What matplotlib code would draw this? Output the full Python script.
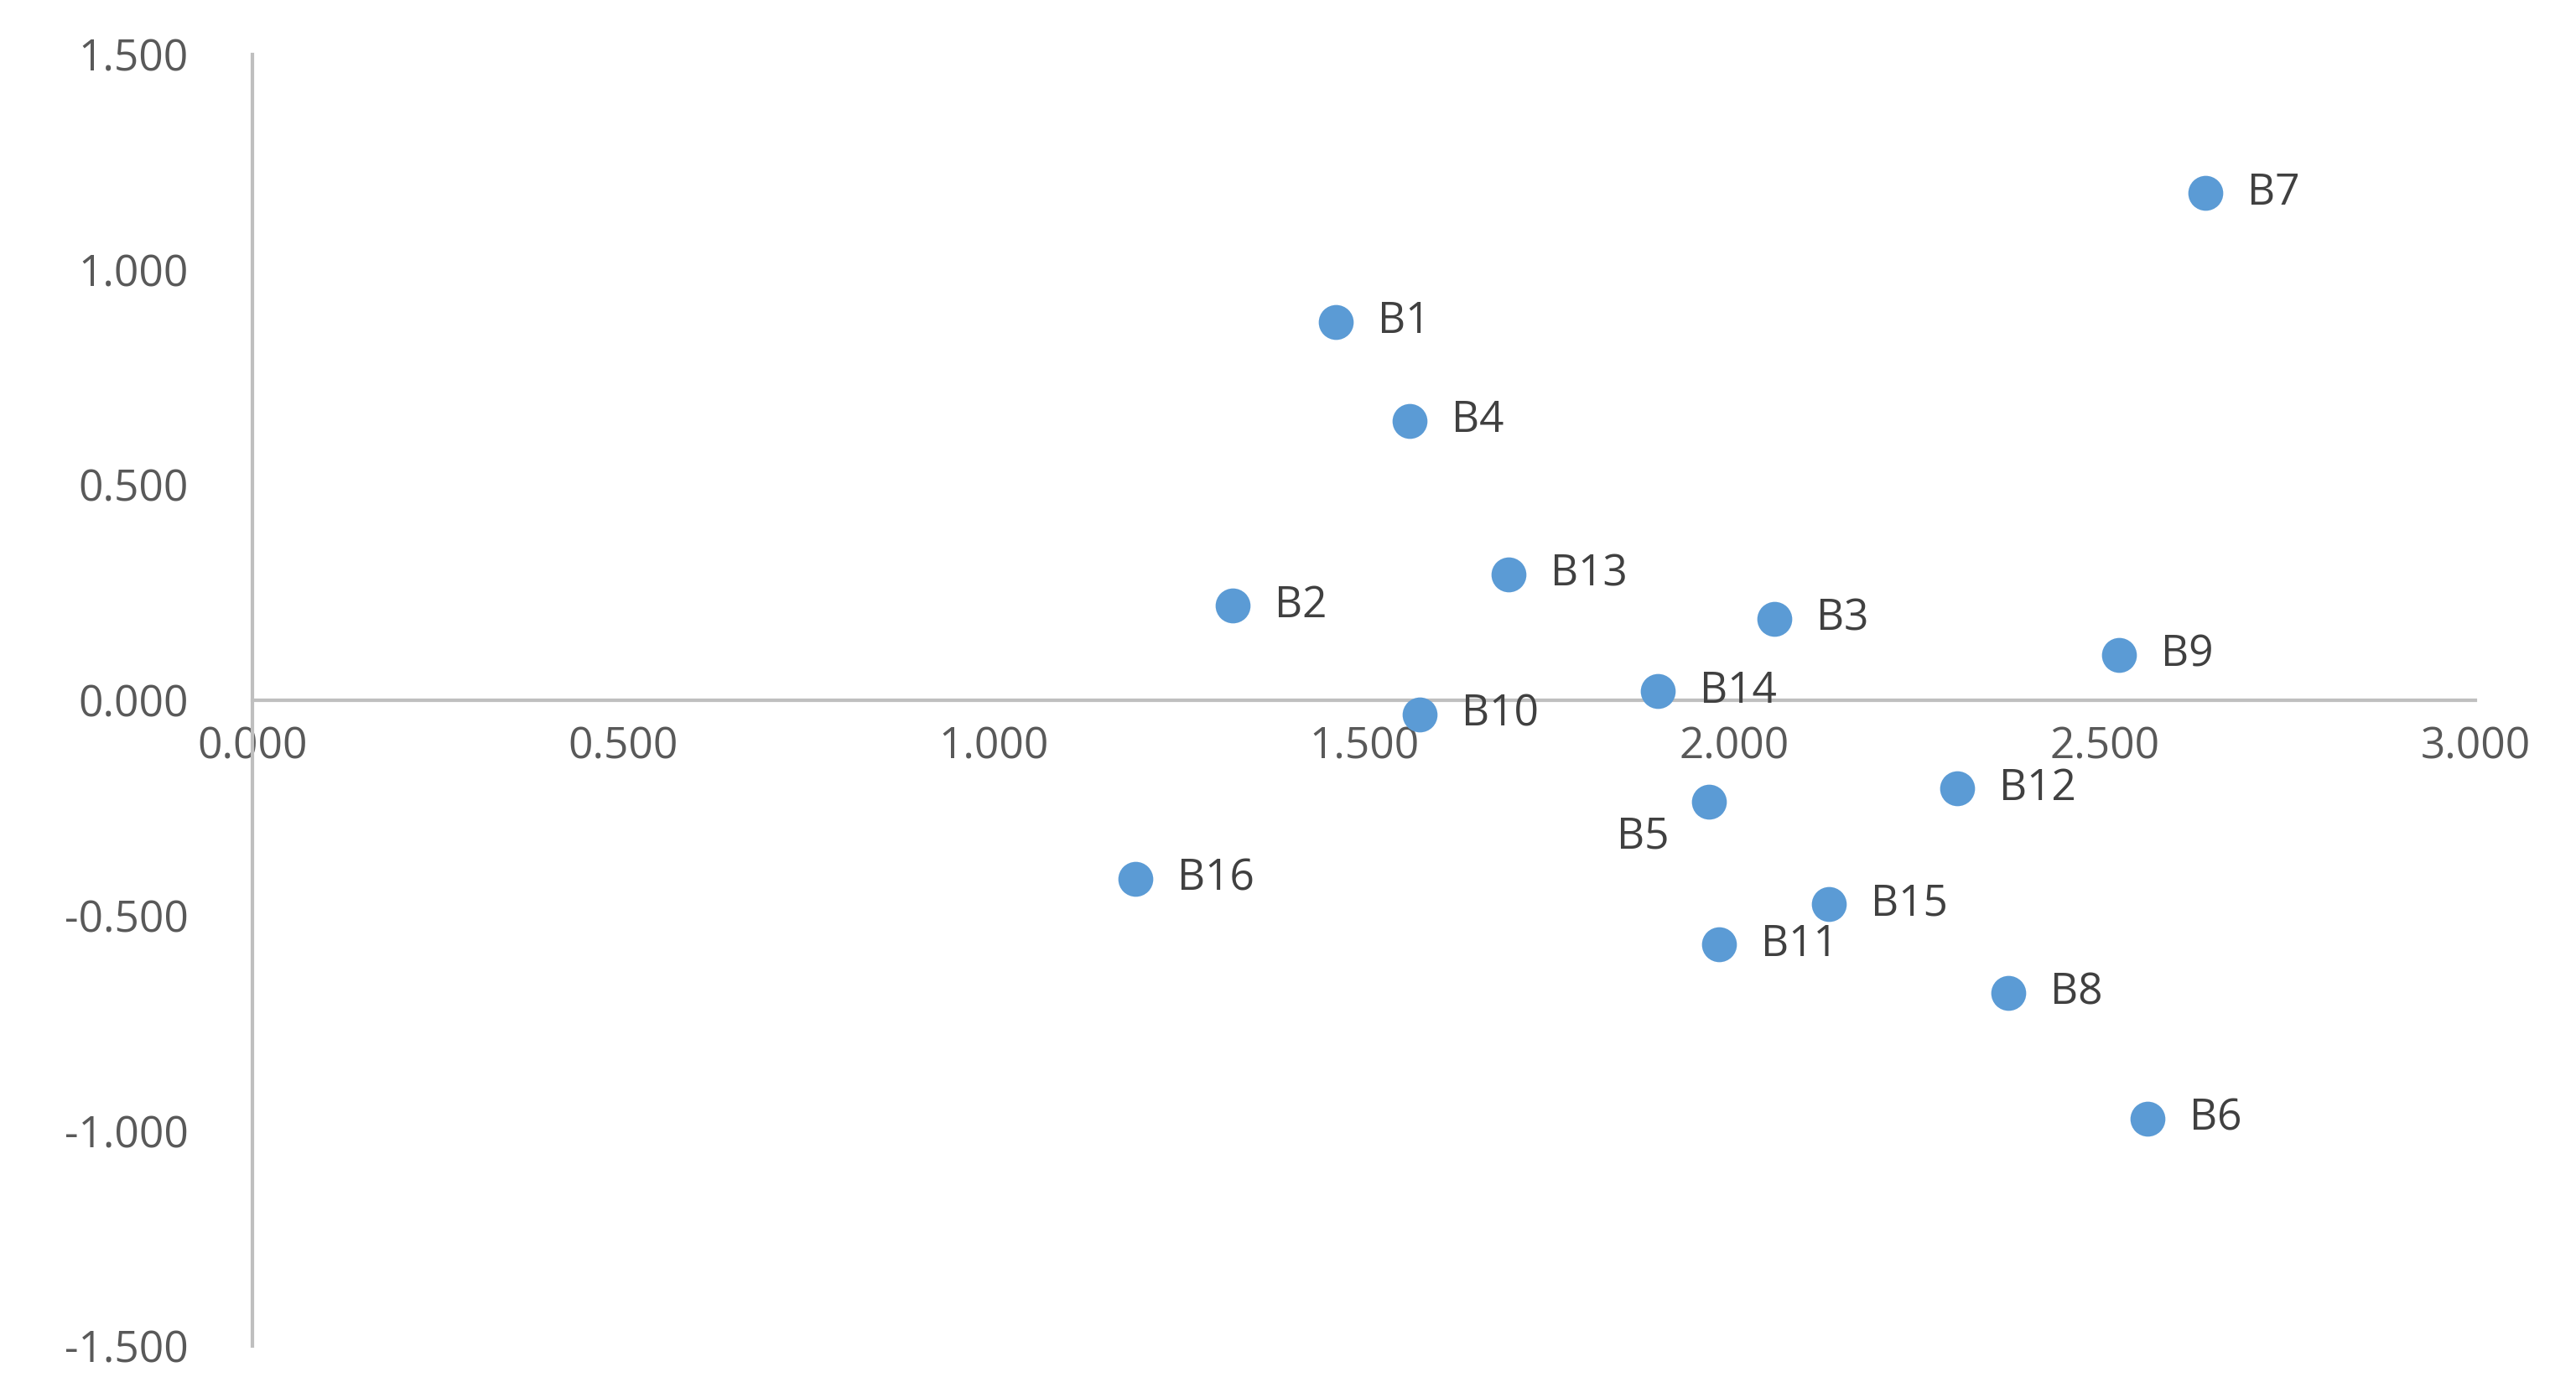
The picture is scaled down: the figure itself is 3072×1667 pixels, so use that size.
import matplotlib
matplotlib.use("Agg")
import matplotlib.pyplot as plt

labels = ["B1","B2","B3","B4","B5","B6","B7","B8","B9","B10","B11","B12","B13","B14","B15","B16"]
xs = [1.462,1.323,2.054,1.562,1.965,2.557,2.635,2.369,2.519,1.575,1.979,2.300,1.695,1.897,2.127,1.192]
ys = [0.879,0.220,0.190,0.649,-0.236,-0.971,1.178,-0.680,0.105,-0.033,-0.567,-0.205,0.293,0.021,-0.473,-0.415]

plt.rcParams['font.family'] = ['Open Sans', 'DejaVu Sans']
plt.rcParams['axes.unicode_minus'] = False
fig = plt.figure(figsize=(30.72, 16.67), dpi=100)
ax = fig.add_axes([0.098, 0.037, 0.863, 0.924])
ax.scatter(xs, ys, s=900, color='#5B9BD5', zorder=3, linewidths=0)
for l, x, y in zip(labels, xs, ys):
    if l == "B5":
        ax.annotate(l, (x, y), xytext=(-34, -30), textcoords='offset points',
                    ha='right', va='center', fontsize=37, color='#404040')
    else:
        ax.annotate(l, (x, y), xytext=(36, 0), textcoords='offset points',
                    ha='left', va='center', fontsize=37, color='#404040')
ax.set_xlim(0, 3)
ax.set_ylim(-1.5, 1.5)
ax.set_xticks([0,0.5,1,1.5,2,2.5,3])
ax.set_yticks([-1.5,-1,-0.5,0,0.5,1,1.5])
ax.xaxis.set_major_formatter(matplotlib.ticker.StrMethodFormatter('{x:.3f}'))
ax.yaxis.set_major_formatter(matplotlib.ticker.StrMethodFormatter('{x:.3f}'))
ax.spines['bottom'].set_position(('data', 0))
for s in ['top', 'right']:
    ax.spines[s].set_visible(False)
for s in ['bottom', 'left']:
    ax.spines[s].set_color('#BFBFBF')
    ax.spines[s].set_linewidth(3)
ax.tick_params(axis='x', length=0, pad=22, labelsize=37, labelcolor='#595959')
ax.tick_params(axis='y', length=0, pad=55, labelsize=37, labelcolor='#595959')
ax.patch.set_alpha(0)
fig.savefig('out.png', dpi=100)
